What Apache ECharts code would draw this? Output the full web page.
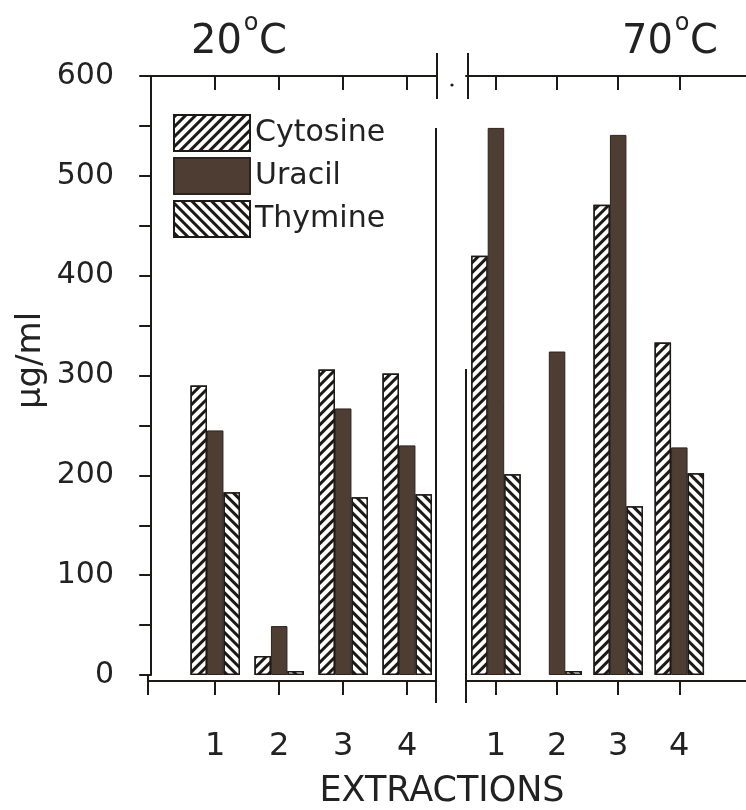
<!DOCTYPE html>
<html>
<head>
<meta charset="utf-8">
<script src="https://cdn.jsdelivr.net/npm/echarts@6/dist/echarts.min.js"></script>
</head>
<body style="margin:0; background:#fff">
<div id="container" style="width:746px; height:810px"></div>
<script>
// extraction number on the x axis of both panels
var extractions = [1, 2, 3, 4];

// µg/ml at 20 °C
var cytosine20 = [290, 19, 306, 302];
var uracil20 = [245, 49, 267, 230];
var thymine20 = [183, 4, 178, 181];

// µg/ml at 70 °C (no cytosine bar in extraction 2)
var cytosine70 = [420, null, 471, 333];
var uracil70 = [548, 324, 541, 228];
var thymine70 = [201, 4, 169, 202];

var yTicks = [0, 100, 200, 300, 400, 500, 600];

var ink = '#1c1917';
var font = 'DejaVu Sans';

function pairs(vals) {
  return extractions.map(function (x, i) { return [x, vals[i]]; });
}

var styles = {
  Cytosine: {
    color: '#fff', borderColor: ink, borderWidth: 1.5,
    decal: { symbol: 'rect', symbolSize: 1, dashArrayX: [1, 0], dashArrayY: [2.5, 3.5],
             rotation: -Math.PI / 4, color: ink, backgroundColor: '#fff' }
  },
  Uracil: { color: '#4d3d32', borderColor: '#2e241e', borderWidth: 1 },
  Thymine: {
    color: '#fff', borderColor: ink, borderWidth: 1.5,
    decal: { symbol: 'rect', symbolSize: 1, dashArrayX: [1, 0], dashArrayY: [2.5, 3.5],
             rotation: Math.PI / 4, color: ink, backgroundColor: '#fff' }
  }
};

// bars sit on the label axis of their panel
function barSeries(name, vals, gi) {
  return {
    name: name, type: 'bar',
    xAxisIndex: gi * 3 + 1, yAxisIndex: gi,
    barWidth: 16.5, barGap: '0%',
    itemStyle: styles[name],
    data: pairs(vals)
  };
}

// per panel: bottom line + ticks (top edge of a thin strip grid under the panel),
// bottom labels, top line with inward ticks
function xAxes(gi, min, max) {
  var line = { onZero: false, lineStyle: { color: ink, width: 2 } };
  var tickLine = { color: ink, width: 2 };
  return [{
    type: 'value', gridIndex: gi + 2, position: 'top',
    min: min, max: max,
    axisLine: line,
    axisTick: { customValues: extractions, inside: true, length: 14, lineStyle: tickLine },
    axisLabel: { show: false },
    splitLine: { show: false }
  }, {
    type: 'value', gridIndex: gi, position: 'bottom', offset: 6,
    min: min, max: max,
    axisLine: { show: false, onZero: false },
    axisTick: { show: false },
    axisLabel: { customValues: extractions, margin: 50, fontSize: 32, fontFamily: font, color: '#222' },
    splitLine: { show: false }
  }, {
    type: 'value', gridIndex: gi, position: 'top',
    min: min, max: max,
    axisLine: line,
    axisTick: { customValues: extractions, inside: true, length: 14, lineStyle: tickLine },
    axisLabel: { show: false },
    splitLine: { show: false }
  }];
}

var myChart = echarts.init(document.getElementById('container'));

function vline(x, y1, y2) {
  return { type: 'line', shape: { x1: x, y1: y1, x2: x, y2: y2 },
           style: { stroke: ink, lineWidth: 2 } };
}

function txt(x, y, s, size, align) {
  return { type: 'text', x: x, y: y,
           style: { text: s, align: align || 'center', verticalAlign: 'middle',
                    fontSize: size, fontFamily: font, fill: '#222' } };
}

// temperature heading: number, raised "o", then C
function tempLabel(x, t) {
  return [txt(x - 9, 43, t, 40, 'right'), txt(x, 24, 'o', 24), txt(x + 8, 43, 'C', 40, 'left')];
}

option = {
  animation: false,
  backgroundColor: '#fff',
  grid: [
    { left: 148, top: 76, width: 288, height: 599 },
    { left: 466, top: 76, width: 290, height: 599 },
    { left: 148, top: 681, width: 288, height: 30 },
    { left: 466, top: 681, width: 290, height: 30 }
  ],
  legend: {
    data: ['Cytosine', 'Uracil', 'Thymine'],
    orient: 'vertical', left: 173, top: 114,
    itemWidth: 76, itemHeight: 36, itemGap: 5, padding: 0,
    icon: 'rect',
    textStyle: { fontSize: 30, fontFamily: font, color: '#222' }
  },
  xAxis: xAxes(0, -0.05, 4.45).concat(xAxes(1, 0.51, 0.51 + 290 / 63.3)),
  yAxis: [{
    type: 'value', gridIndex: 0, min: 0, max: 600, interval: 50,
    name: 'μg/ml', nameLocation: 'middle', nameRotate: 90, nameGap: 100,
    nameTextStyle: { fontSize: 34, fontFamily: font, color: '#222', padding: [0, 0, 0, 30] },
    axisLine: { show: true, lineStyle: { color: ink, width: 2 } },
    axisTick: { length: 12, lineStyle: { color: ink, width: 2 } },
    axisLabel: {
      margin: 34, fontSize: 30, fontFamily: font, color: '#222',
      formatter: function (v) { return yTicks.indexOf(v) >= 0 ? String(v) : ''; }
    },
    splitLine: { show: false }
  }, {
    type: 'value', gridIndex: 1, min: 0, max: 600, show: false
  }, {
    type: 'value', gridIndex: 2, min: 0, max: 1, show: false
  }, {
    type: 'value', gridIndex: 3, min: 0, max: 1, show: false
  }],
  graphic: [
    vline(148, 675, 695),
    vline(436, 128, 703),
    vline(437, 53, 99),
    vline(468, 53, 99),
    vline(466, 369, 703),
    { type: 'circle', shape: { cx: 452, cy: 85, r: 1.6 }, style: { fill: ink } },
    txt(442, 792, 'EXTRACTIONS', 35)
  ].concat(tempLabel(251, '20'), tempLabel(682, '70')),
  series: [
    barSeries('Cytosine', cytosine20, 0),
    barSeries('Uracil', uracil20, 0),
    barSeries('Thymine', thymine20, 0),
    barSeries('Cytosine', cytosine70, 1),
    barSeries('Uracil', uracil70, 1),
    barSeries('Thymine', thymine70, 1)
  ]
};

myChart.setOption(option);
</script>
</body>
</html>
